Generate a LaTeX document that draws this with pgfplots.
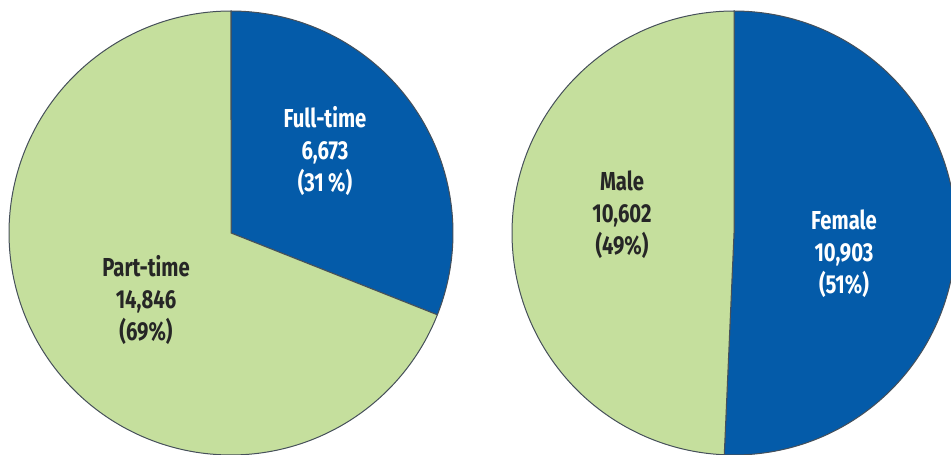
\documentclass[border=0pt]{standalone}
\usepackage{pgfplots}
\pgfplotsset{compat=1.18}
\usepackage{fontspec}
\setmainfont{Fira Sans}[FakeStretch=0.78]
\definecolor{pieblue}{HTML}{045BA9}
\definecolor{piegreen}{HTML}{C5DF9D}
\definecolor{pieedge}{HTML}{46505A}
% data
\def\fulltime{6673}
\def\parttime{14846}
\def\male{10602}
\def\female{10903}
\tikzset{lbl/.style={font=\bfseries\fontsize{26}{32}\selectfont, align=center}}
\begin{document}
\begin{tikzpicture}
\useasboundingbox (0,0) rectangle (951pt,455pt);
\pgfmathsetmacro{\angA}{90-360*(\fulltime/1000)/(\fulltime/1000+\parttime/1000)}
\pgfmathsetmacro{\angB}{90-360*(\female/1000)/(\female/1000+\male/1000)}
\begin{axis}[
  scale only axis, width=951pt, height=455pt,
  xmin=0, xmax=951, ymin=0, ymax=455,
  hide axis, clip=true,
]
% left pie
\addplot[fill=pieblue, draw=pieedge, line width=1pt, domain=90:\angA, samples=120, variable=\t]
  ({231+222*cos(\t)},{222+222*sin(\t)}) -- (axis cs:231,222) -- cycle;
\addplot[fill=piegreen, draw=pieedge, line width=1pt, domain=\angA:-270, samples=200, variable=\t]
  ({231+222*cos(\t)},{222+222*sin(\t)}) -- (axis cs:231,222) -- cycle;
% right pie
\addplot[fill=pieblue, draw=pieedge, line width=1pt, domain=90:\angB, samples=200, variable=\t]
  ({734+222*cos(\t)},{222+222*sin(\t)}) -- (axis cs:734,222) -- cycle;
\addplot[fill=piegreen, draw=pieedge, line width=1pt, domain=\angB:-270, samples=200, variable=\t]
  ({734+222*cos(\t)},{222+222*sin(\t)}) -- (axis cs:734,222) -- cycle;
\node[lbl, text=white] at (axis cs:325,304) {Full-time\\6,673\\(31\,\%)};
\node[lbl, text=black!85] at (axis cs:146,155) {Part-time\\14,846\\(69\%)};
\node[lbl, text=black!85] at (axis cs:622,240) {Male\\10,602\\(49\%)};
\node[lbl, text=white] at (axis cs:844,201) {Female\\10,903\\(51\%)};
\end{axis}
\end{tikzpicture}
\end{document}
